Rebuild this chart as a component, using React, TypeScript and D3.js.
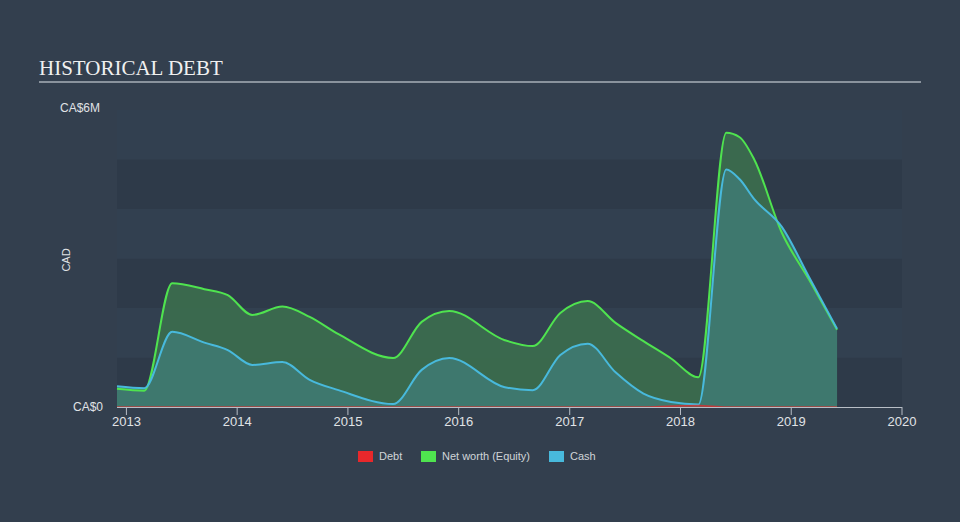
import React from "react";
import * as d3 from "d3";

const dates = [
  "2012-12-01", "2013-03-01", "2013-06-01", "2013-09-15", "2013-12-01", "2014-02-20",
  "2014-05-30", "2014-08-28", "2014-12-01", "2015-05-30", "2015-09-01", "2015-12-01",
  "2016-06-01", "2016-09-01", "2016-12-01", "2017-03-01", "2017-06-01", "2017-09-01",
  "2017-12-01", "2018-03-01", "2018-06-01", "2018-07-15", "2018-09-01", "2018-12-01",
  "2019-03-01", "2019-06-01",
];
const netWorth = [
  0.37, 0.33, 2.5, 2.38, 2.26, 1.86,
  2.03, 1.82, 1.47, 0.99, 1.72, 1.94,
  1.35, 1.23, 1.9, 2.14, 1.7, 1.33,
  0.98, 0.6, 5.54, 5.45, 5.0, 3.52,
  2.57, 1.56,
];
const cash = [
  0.42, 0.38, 1.52, 1.3, 1.15, 0.85,
  0.91, 0.55, 0.34, 0.06, 0.75, 0.99,
  0.4, 0.34, 1.05, 1.28, 0.7, 0.27,
  0.1, 0.05, 4.8, 4.6, 4.2, 3.64,
  2.62, 1.58,
];
const debt = [
  0, 0, 0, 0, 0, 0,
  0, 0, 0, 0, 0, 0,
  0, 0, 0, 0, 0, 0,
  0.02, 0.03, 0, 0, 0, 0,
  0, 0,
];
const xTicks = ["2013", "2014", "2015", "2016", "2017", "2018", "2019", "2020"];
const yBands = [0, 1, 2, 3, 4];
const legendItems = [
  { label: "Debt", color: "#e8282b" },
  { label: "Net worth (Equity)", color: "#4fe34f" },
  { label: "Cash", color: "#48b9dc" },
];

const W = 960;
const H = 522;
const parse = d3.timeParse("%Y-%m-%d");

export default function App() {
  const x = d3
    .scaleTime()
    .domain([parse("2012-12-01")!, parse("2020-01-01")!])
    .range([117, 902]);
  const y = d3.scaleLinear().domain([0, 6]).range([407, 110]);

  const pts = dates.map((d, i) => ({
    t: parse(d)!,
    nw: netWorth[i],
    c: cash[i],
    d: debt[i],
  }));

  const mkArea = (k: "nw" | "c" | "d") =>
    d3
      .area<any>()
      .x((p) => x(p.t))
      .y0(y(0))
      .y1((p) => y(p[k]))
      .curve(d3.curveMonotoneX)(pts) as string;
  const mkLine = (k: "nw" | "c" | "d") =>
    d3
      .line<any>()
      .x((p) => x(p.t))
      .y((p) => y(p[k]))
      .curve(d3.curveMonotoneX)(pts) as string;

  const legendX = [358, 421, 549];

  return (
    <svg
      width={W}
      height={H}
      style={{ position: "absolute", left: 0, top: 0, display: "block" }}
    >
      <rect x={0} y={0} width={W} height={H} fill="#333f4e" />
      <rect x={117} y={110} width={785} height={297} fill="#324050" />
      <text
        x={39}
        y={75}
        fontFamily="'Liberation Serif', 'Times New Roman', serif"
        fontSize={21}
        fill="#f0f0f0"
      >
        HISTORICAL DEBT
      </text>
      <line x1={39} x2={921} y1={82} y2={82} stroke="#a9b0b8" strokeWidth={1.5} />

      {yBands.map((b) => (
        <rect
          key={b}
          x={117}
          width={902 - 117}
          y={y(b + 1)}
          height={y(b) - y(b + 1)}
          fill={b % 2 === 0 ? "#2e3a49" : "#324050"}
        />
      ))}

      <path d={mkArea("nw")} fill="#3b6b4e" fillOpacity={0.95} />
      <path d={mkArea("c")} fill="#3f7a72" fillOpacity={0.9} />
      <path d={mkArea("d")} fill="#e8282b" fillOpacity={0.4} />
      <path d={mkLine("nw")} fill="none" stroke="#4fe34f" strokeWidth={2} />
      <path d={mkLine("c")} fill="none" stroke="#48b9dc" strokeWidth={2} />
      <path d={mkLine("d")} fill="none" stroke="#e8282b" strokeWidth={1.5} strokeOpacity={0.7} />

      <line x1={117} x2={902} y1={407.5} y2={407.5} stroke="#b8bec6" strokeWidth={1} />
      {xTicks.map((t) => {
        const xx = x(parse(`${t}-01-01`)!);
        return (
          <g key={t}>
            <line x1={xx} x2={xx} y1={407} y2={415} stroke="#b8bec6" strokeWidth={1} />
            <text
              x={xx}
              y={426}
              textAnchor="middle"
              fontFamily="'Liberation Sans', Arial, sans-serif"
              fontSize={13}
              fill="#e0e3e6"
            >
              {t}
            </text>
          </g>
        );
      })}

      <text
        x={60}
        y={112}
        fontFamily="'Liberation Sans', Arial, sans-serif"
        fontSize={12}
        fill="#e0e3e6"
      >
        CA$6M
      </text>
      <text
        x={103}
        y={411}
        textAnchor="end"
        fontFamily="'Liberation Sans', Arial, sans-serif"
        fontSize={12}
        fill="#e0e3e6"
      >
        CA$0
      </text>
      <text
        transform="translate(70,260) rotate(-90)"
        textAnchor="middle"
        fontFamily="'Liberation Sans', Arial, sans-serif"
        fontSize={11}
        fill="#e0e3e6"
      >
        CAD
      </text>

      {legendItems.map((it, i) => (
        <g key={it.label}>
          <rect x={legendX[i]} y={451} width={15} height={11} fill={it.color} />
          <text
            x={legendX[i] + 21}
            y={460}
            fontFamily="'Liberation Sans', Arial, sans-serif"
            fontSize={11}
            fill="#d0d4d8"
          >
            {it.label}
          </text>
        </g>
      ))}
    </svg>
  );
}
